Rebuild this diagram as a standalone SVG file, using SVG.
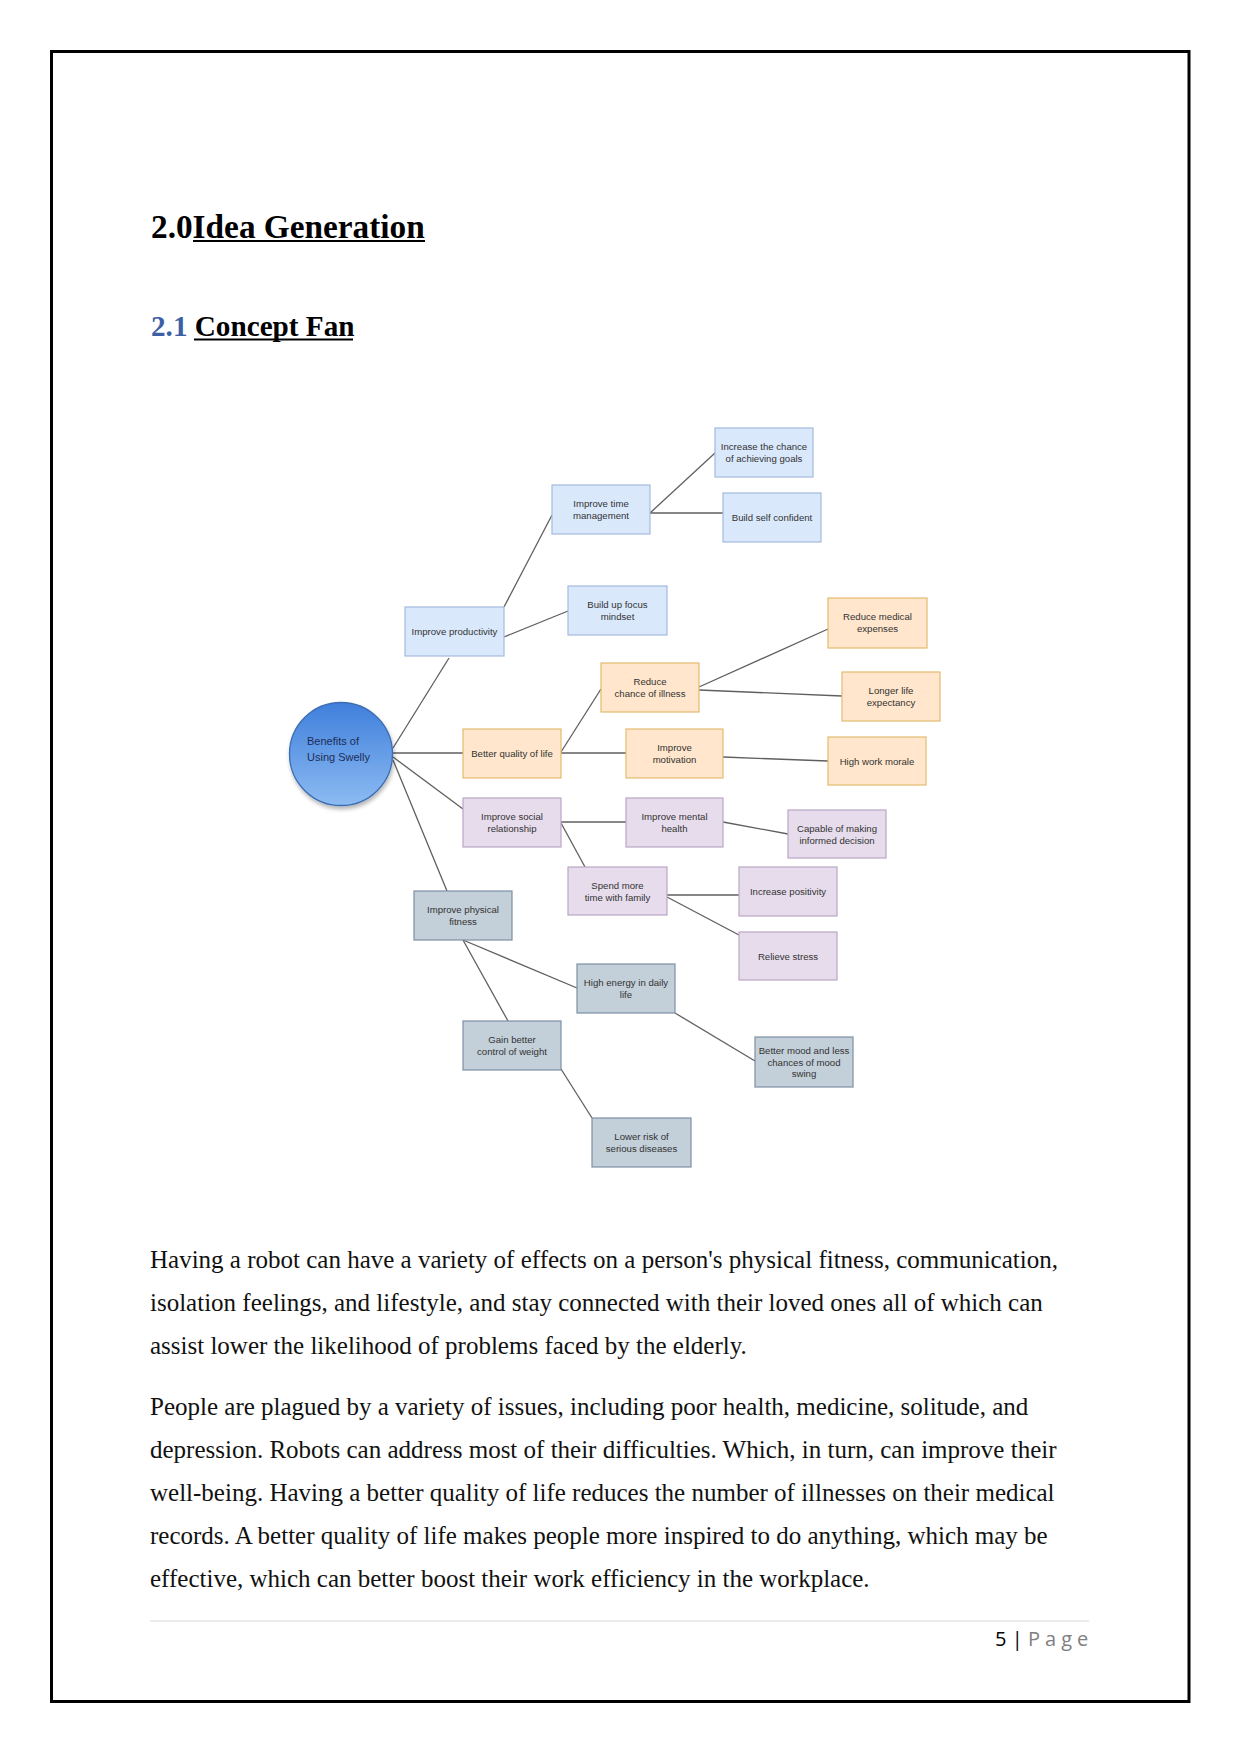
<svg xmlns="http://www.w3.org/2000/svg" width="1240" height="1755" viewBox="0 0 1240 1755">
<style>
.h{font-family:"Liberation Serif","Times New Roman",serif;font-weight:bold;fill:#000}
.body{font-family:"Liberation Serif","Times New Roman",serif;font-size:25px;fill:#111}
.n rect{stroke-width:1.2}
.blue rect{fill:#dae8fc;stroke:#a3badc}
.orange rect{fill:#ffe6cc;stroke:#e3bb6f}
.purple rect{fill:#e7dcec;stroke:#b9a6c6}
.slate rect{fill:#c3cfd9;stroke:#7c91a3}
.n text{font-family:"Liberation Sans",Arial,sans-serif;font-size:9.6px;fill:#333;text-anchor:middle}
.c line{stroke:#5f5f5f;stroke-width:1.3;fill:none}
.ft{font-family:"Open Sans","Noto Sans",sans-serif;font-size:20px}
</style>
<defs>
<linearGradient id="gb" x1="0" y1="0" x2="0" y2="1">
<stop offset="0" stop-color="#3f7fdc"/>
<stop offset="1" stop-color="#8dbbf2"/>
</linearGradient>
<filter id="sh" x="-20%" y="-20%" width="140%" height="150%">
<feGaussianBlur in="SourceAlpha" stdDeviation="2"/>
<feOffset dx="1" dy="3"/>
<feComponentTransfer><feFuncA type="linear" slope="0.3"/></feComponentTransfer>
<feMerge><feMergeNode/><feMergeNode in="SourceGraphic"/></feMerge>
</filter>
</defs>
<rect width="1240" height="1755" fill="#fff"/>
<rect x="51.5" y="51.5" width="1137.5" height="1650" fill="none" stroke="#000" stroke-width="3"/>

<g id="headings">
<text class="h" x="151" y="238" font-size="33.3">2.0Idea Generation</text>
<line x1="193" y1="241" x2="425" y2="241" stroke="#000" stroke-width="2"/>
<text class="h" x="151" y="336" font-size="29.2"><tspan fill="#3c5fa5">2.1</tspan> Concept Fan</text>
<line x1="194" y1="339.5" x2="353" y2="339.5" stroke="#000" stroke-width="1.8"/>
</g>

<g id="connectors" class="c">
<line x1="393" y1="748" x2="449" y2="658"/>
<line x1="393" y1="753" x2="463" y2="753"/>
<line x1="393" y1="757" x2="463" y2="809"/>
<line x1="393" y1="760" x2="447" y2="891"/>
<line x1="504" y1="607" x2="552" y2="515"/>
<line x1="504" y1="637" x2="568" y2="611"/>
<line x1="650" y1="513" x2="715" y2="453"/>
<line x1="650" y1="513" x2="723" y2="513"/>
<line x1="561" y1="752" x2="601" y2="689"/>
<line x1="561" y1="753" x2="626" y2="753"/>
<line x1="699" y1="687" x2="828" y2="629"/>
<line x1="699" y1="690" x2="842" y2="696"/>
<line x1="723" y1="757" x2="828" y2="761"/>
<line x1="561" y1="822" x2="626" y2="822"/>
<line x1="561" y1="823" x2="585" y2="867"/>
<line x1="723" y1="822" x2="788" y2="834"/>
<line x1="667" y1="895" x2="739" y2="895"/>
<line x1="667" y1="897" x2="739" y2="935"/>
<line x1="463" y1="940" x2="577" y2="988"/>
<line x1="463" y1="940" x2="508" y2="1021"/>
<line x1="561" y1="1069" x2="592" y2="1118"/>
<line x1="675" y1="1013" x2="755" y2="1061"/>
</g>

<g id="center">
<circle cx="341" cy="754" r="51.5" fill="url(#gb)" stroke="#3b6db3" stroke-width="1.3" filter="url(#sh)"/>
<text x="307" y="745" font-family="Liberation Sans,Arial,sans-serif" font-size="11" fill="#1c2d55">Benefits of</text>
<text x="307" y="761" font-family="Liberation Sans,Arial,sans-serif" font-size="11" fill="#1c2d55">Using Swelly</text>
</g>

<g id="improve-productivity" class="n blue"><rect x="405" y="607" width="99" height="49"/><text x="454.5" y="635">Improve productivity</text></g>
<g id="improve-time" class="n blue"><rect x="552" y="485" width="98" height="49"/><text x="601" y="507">Improve time</text><text x="601" y="519">management</text></g>
<g id="build-focus" class="n blue"><rect x="568" y="586" width="99" height="49"/><text x="617.5" y="608">Build up focus</text><text x="617.5" y="620">mindset</text></g>
<g id="increase-chance" class="n blue"><rect x="715" y="428" width="98" height="49"/><text x="764" y="450">Increase the chance</text><text x="764" y="462">of achieving goals</text></g>
<g id="build-self" class="n blue"><rect x="723" y="493" width="98" height="49"/><text x="772" y="521">Build self confident</text></g>

<g id="better-quality" class="n orange"><rect x="463" y="729" width="98" height="49"/><text x="512" y="757">Better quality of life</text></g>
<g id="reduce-illness" class="n orange"><rect x="601" y="663" width="98" height="49"/><text x="650" y="685">Reduce</text><text x="650" y="697">chance of illness</text></g>
<g id="improve-motivation" class="n orange"><rect x="626" y="729" width="97" height="49"/><text x="674.5" y="751">Improve</text><text x="674.5" y="763">motivation</text></g>
<g id="reduce-medical" class="n orange"><rect x="828" y="598" width="99" height="50"/><text x="877.5" y="620">Reduce medical</text><text x="877.5" y="632">expenses</text></g>
<g id="longer-life" class="n orange"><rect x="842" y="672" width="98" height="49"/><text x="891" y="694">Longer life</text><text x="891" y="706">expectancy</text></g>
<g id="high-morale" class="n orange"><rect x="828" y="737" width="98" height="48"/><text x="877" y="764.5">High work morale</text></g>

<g id="improve-social" class="n purple"><rect x="463" y="798" width="98" height="49"/><text x="512" y="820">Improve social</text><text x="512" y="832">relationship</text></g>
<g id="improve-mental" class="n purple"><rect x="626" y="798" width="97" height="49"/><text x="674.5" y="820">Improve mental</text><text x="674.5" y="832">health</text></g>
<g id="capable" class="n purple"><rect x="788" y="810" width="98" height="48"/><text x="837" y="831.5">Capable of making</text><text x="837" y="843.5">informed decision</text></g>
<g id="spend-time" class="n purple"><rect x="568" y="867" width="99" height="48"/><text x="617.5" y="888.5">Spend more</text><text x="617.5" y="900.5">time with family</text></g>
<g id="increase-positivity" class="n purple"><rect x="739" y="867" width="98" height="49"/><text x="788" y="895">Increase positivity</text></g>
<g id="relieve-stress" class="n purple"><rect x="739" y="932" width="98" height="48"/><text x="788" y="959.5">Relieve stress</text></g>

<g id="improve-physical" class="n slate"><rect x="414" y="891" width="98" height="49"/><text x="463" y="913">Improve physical</text><text x="463" y="925">fitness</text></g>
<g id="high-energy" class="n slate"><rect x="577" y="964" width="98" height="49"/><text x="626" y="986">High energy in daily</text><text x="626" y="998">life</text></g>
<g id="gain-control" class="n slate"><rect x="463" y="1021" width="98" height="49"/><text x="512" y="1043">Gain better</text><text x="512" y="1055">control of weight</text></g>
<g id="better-mood" class="n slate"><rect x="755" y="1037" width="98" height="50"/><text x="804" y="1054">Better mood and less</text><text x="804" y="1065.5">chances of mood</text><text x="804" y="1077">swing</text></g>
<g id="lower-risk" class="n slate"><rect x="592" y="1118" width="99" height="49"/><text x="641.5" y="1140">Lower risk of</text><text x="641.5" y="1152">serious diseases</text></g>

<g id="body">
<text class="body" x="150" y="1268">Having a robot can have a variety of effects on a person's physical fitness, communication,</text>
<text class="body" x="150" y="1311">isolation feelings, and lifestyle, and stay connected with their loved ones all of which can</text>
<text class="body" x="150" y="1354">assist lower the likelihood of problems faced by the elderly.</text>
<text class="body" x="150" y="1415">People are plagued by a variety of issues, including poor health, medicine, solitude, and</text>
<text class="body" x="150" y="1458">depression. Robots can address most of their difficulties. Which, in turn, can improve their</text>
<text class="body" x="150" y="1501">well-being. Having a better quality of life reduces the number of illnesses on their medical</text>
<text class="body" x="150" y="1544">records. A better quality of life makes people more inspired to do anything, which may be</text>
<text class="body" x="150" y="1587">effective, which can better boost their work efficiency in the workplace.</text>
</g>

<g id="footer">
<line x1="150" y1="1621" x2="1089" y2="1621" stroke="#d9d9d9" stroke-width="1.2"/>
<text class="ft" x="995" y="1646" fill="#000">5 |</text>
<text class="ft" x="1028" y="1646" fill="#808080" letter-spacing="5">Page</text>
</g>
</svg>
